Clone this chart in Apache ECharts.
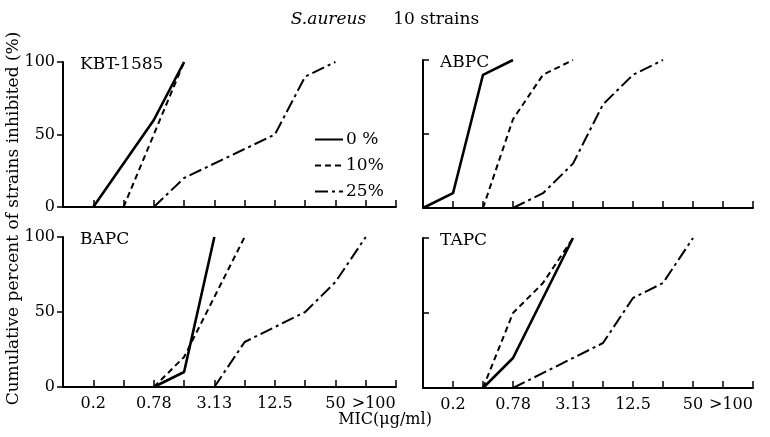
<!DOCTYPE html>
<html>
<head>
<meta charset="utf-8">
<script src="https://cdn.jsdelivr.net/npm/echarts@6/dist/echarts.min.js"></script>
<style>
html,body{margin:0;padding:0;background:#fff;}
#chart{width:770px;height:437px;}
</style>
</head>
<body>
<div id="chart"></div>
<script>
// MIC categories (doubling dilution steps); last entry is the axis end
var categories = ['0.1','0.2','0.39','0.78','1.56','3.13','6.25','12.5','25','50','>100',''];
var tickLabels = ['', '0.2', '', '0.78', '', '3.13', '', '12.5', '', '50', '>100', ''];
var seriesNames = ['0 %', '10%', '25%'];
var panelNames = ['KBT-1585', 'ABPC', 'BAPC', 'TAPC'];
var yTicks = [0, 50, 100];

// cumulative % inhibited at each category (null = no plotted point)
var kbt_0  = [null, 0, null, 60, 100, null, null, null, null, null, null, null];
var kbt_10 = [null, null, 0, null, 100, null, null, null, null, null, null, null];
var kbt_25 = [null, null, null, 0, 20, null, null, 50, 90, 100, null, null];

var abpc_0  = [0, 10, 90, 100, null, null, null, null, null, null, null, null];
var abpc_10 = [null, null, 0, 60, 90, 100, null, null, null, null, null, null];
var abpc_25 = [null, null, null, 0, 10, 30, 70, 90, 100, null, null, null];

var bapc_0  = [null, null, null, 0, 10, 100, null, null, null, null, null, null];
var bapc_10 = [null, null, null, 0, 20, null, 100, null, null, null, null, null];
var bapc_25 = [null, null, null, null, null, 0, 30, null, 50, 70, 100, null];

var tapc_0  = [null, null, 0, 20, null, 100, null, null, null, null, null, null];
var tapc_10 = [null, null, 0, 50, 70, 100, null, null, null, null, null, null];
var tapc_25 = [null, null, null, 0, null, null, 30, 60, 70, 100, null, null];

var panelData = [
  [kbt_0, kbt_10, kbt_25],
  [abpc_0, abpc_10, abpc_25],
  [bapc_0, bapc_10, bapc_25],
  [tapc_0, tapc_10, tapc_25]
];

var FONT = 'DejaVu Serif';
var lineStyles = [
  {type: 'solid', width: 2.6},
  {type: [6, 4], width: 2},
  {type: [13, 4, 3, 4], width: 2}
];

var grids = [
  {left: 63, top: 62, width: 333, height: 145},
  {left: 423, top: 60, width: 330, height: 148},
  {left: 63, top: 237, width: 333, height: 150},
  {left: 423, top: 238, width: 330, height: 150}
];

var xAxes = [], yAxes = [], series = [], titles = [];
titles.push({
  text: '{i|S.aureus}     10 strains',
  left: 'center', top: 6,
  textStyle: {fontFamily: FONT, fontSize: 17, fontWeight: 'normal', color: '#000',
    rich: {i: {fontFamily: FONT, fontStyle: 'italic', fontSize: 17, color: '#000'}}}
});
grids.forEach(function (g, gi) {
  var bottomRow = gi >= 2;
  var leftCol = gi % 2 === 0;
  xAxes.push({
    type: 'category', gridIndex: gi, data: categories, boundaryGap: false,
    axisLine: {lineStyle: {color: '#000', width: 2}},
    axisTick: {inside: true, length: 7, lineStyle: {color: '#000', width: 1.5}, interval: 0},
    axisLabel: {show: bottomRow, interval: 0, margin: 9, color: '#000', fontFamily: FONT, fontSize: 16,
      formatter: function (v, i) { return i === 10 ? '{r|' + tickLabels[i] + '}' : tickLabels[i]; },
      rich: {r: {fontFamily: FONT, fontSize: 16, color: '#000', padding: [0, 0, 0, 16]}}},
    splitLine: {show: false}
  });
  yAxes.push({
    type: 'value', gridIndex: gi, min: yTicks[0], max: yTicks[2], interval: yTicks[1] - yTicks[0],
    axisLine: {show: true, lineStyle: {color: '#000', width: 2}},
    axisTick: {show: true, inside: !leftCol, length: 6, lineStyle: {color: '#000', width: 1.5}},
    axisLabel: {show: leftCol, margin: 8, color: '#000', fontFamily: FONT, fontSize: 16},
    splitLine: {show: false}
  });
  titles.push({
    text: panelNames[gi], left: g.left + 12, top: g.top - 11,
    textStyle: {fontFamily: FONT, fontSize: 17, fontWeight: 'normal', color: '#000'}
  });
  panelData[gi].forEach(function (arr, si) {
    series.push({
      name: seriesNames[si], type: 'line', xAxisIndex: gi, yAxisIndex: gi,
      data: arr, connectNulls: true, symbol: 'none', silent: true,
      lineStyle: {color: '#000', width: lineStyles[si].width, type: lineStyles[si].type},
      itemStyle: {color: '#000'},
      animation: false
    });
  });
});

var chart = echarts.init(document.getElementById('chart'), null, {renderer: 'canvas'});
chart.setOption({
  backgroundColor: '#fff',
  animation: false,
  title: titles,
  grid: grids,
  xAxis: xAxes,
  yAxis: yAxes,
  series: series,
  legend: {
    data: seriesNames, orient: 'vertical', left: 309, top: 126,
    itemWidth: 28, itemHeight: 14, itemGap: 9, selectedMode: false,
    itemStyle: {opacity: 0},
    textStyle: {fontFamily: FONT, fontSize: 17, color: '#000', padding: [0, 0, 0, -2]}
  },
  graphic: [
    {type: 'text', left: 5, top: 'middle', rotation: Math.PI / 2,
      style: {text: 'Cumulative percent of strains inhibited (%)', fontFamily: FONT, fontSize: 17, fill: '#000'}},
    {type: 'text', left: 'center', top: 412,
      style: {text: 'MIC(\u03bcg/ml)', fontFamily: FONT, fontSize: 16, fill: '#000'}}
  ]
});
</script>
</body>
</html>
